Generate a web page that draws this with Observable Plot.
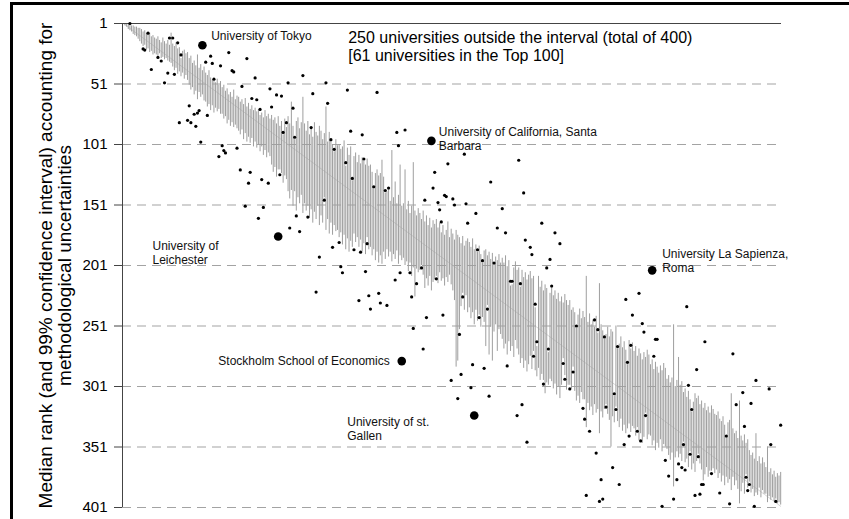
<!DOCTYPE html>
<html>
<head>
<meta charset="utf-8">
<script src="https://cdn.jsdelivr.net/npm/d3@7"></script>
<script src="https://cdn.jsdelivr.net/npm/@observablehq/plot@0.6"></script>
<style>
  html, body { margin: 0; padding: 0; background: #fff; overflow: hidden; }
  #chart { position: relative; width: 849px; height: 519px; }
  #edge { position: absolute; left: 10px; top: 2px; width: 900px; height: 600px;
          border-left: 3px solid #000; border-top: 3px solid #000; pointer-events: none; }
</style>
</head>
<body>
<div id="chart"><div id="edge"></div></div>
<script>
// Universities sorted by median simulated rank (position 1..400).
// 99% interval of the simulated rank: best (top) and worst (bottom) end.
const ciBest = [
  1,1,1,2,2,3,3,4,4,5, 5,6,8,7,9,10,9,12,11,13, 14,12,15,17,13,16,18,15,19,9,
  18,20,17,22,21,30,24,23,26,25, 30,28,34,32,36,27,38,35,40,37, 42,44,40,46,48,49,50,47,52,49,
  54,52,57,55,60,58,62,56,64,61, 62,66,64,68,63,70,67,72,69,73, 71,74,72,77,75,79,73,78,76,80,
  77,81,79,84,78,86,82,93,80,87, 78,84,66,86,97,82,79,88,83,62, 84,90,82,93,88,95,83,91,94,86,
  90,97,92,70,99,91,98,101,107,97, 102,101,105,103,98,119,104,110,103,131, 111,108,116,110,117,112,115,118,113,119,
  118,124,138,125,122,127,125,114,128,141, 140,139,148,106,145,132,150,143,118,152, 150,122,155,148,158,152,116,156,160,154,
  158,163,156,165,160,168,162,170,164,167, 163,170,166,174,168,176,172,165,178,171, 175,180,172,176,178,183,177,185,181,179,
  182,186,179,188,184,190,185,192,199,189, 188,193,190,196,191,201,194,197,192,199, 195,199,193,202,197,218,217,203,198,205,
  203,219,205,211,207,213,209,206,212,210, 236,268,210,219,214,222,217,220,273,224, 220,226,222,229,224,231,227,232,225,230,
  234,230,238,236,240,253,242,237,245,239, 244,210,248,241,250,246,252,243,257,216, 250,255,262,258,252,260,254,256,309,251,
  270,266,260,269,264,271,283,263,270,265, 272,268,276,270,274,279,273,277,271,275, 283,279,287,281,285,290,284,288,282,286,
  295,292,298,294,250,301,296,277,300,297, 306,303,310,305,312,322,314,307,311,309, 316,313,319,315,321,318,323,317,320,324,
  325,322,328,330,326,333,344,331,329,307, 336,340,338,344,313,342,346,341,348,345, 354,358,356,361,340,363,359,365,360,364,
  368,351,372,369,374,371,376,373,375,372
];
const ciWorst = [
  1,3,4,6,7,8,10,11,12,14, 16,18,20,19,23,22,25,24,27,26, 27,28,26,30,29,31,30,32,33,34,
  37,40,38,43,41,45,42,47,44,48, 52,56,54,60,57,64,58,62,60,65, 66,70,68,73,69,75,71,74,72,76,
  76,80,78,84,81,86,83,87,85,88, 90,93,89,97,92,99,95,100,96,103, 99,104,101,107,103,110,106,112,108,111,
  118,124,120,128,122,122,125,133,127,130, 140,146,139,152,140,156,145,150,143,158, 150,156,152,162,155,166,157,163,152,168,
  160,166,145,172,163,175,166,176,168,173, 172,178,174,184,176,188,179,190,181,186, 175,182,178,186,180,190,183,192,178,188,
  186,193,188,197,190,199,193,200,190,196, 188,194,190,198,192,196,189,200,193,197, 195,201,198,206,199,210,203,227,204,207,
  205,201,209,220,212,218,210,222,215,213, 210,216,207,214,212,218,211,215,209,217, 222,230,285,280,254,235,224,238,226,240,
  236,245,240,250,238,247,242,252,244,248, 268,234,275,252,280,256,250,272,254,258, 262,270,266,275,264,272,268,277,263,270,
  275,282,278,286,280,289,283,276,287,272, 288,293,286,296,291,296,307,298,300,295, 297,303,299,308,301,311,300,278,292,304,
  300,300,303,285,305,313,309,315,306,312, 312,335,315,321,318,325,316,323,320,340, 322,327,320,316,324,329,351,326,331,318,
  330,335,328,338,333,340,336,332,339,334, 336,342,335,346,340,348,343,323,345,341, 342,350,346,354,348,352,345,355,349,351,
  353,358,362,356,384,360,355,360,357,363, 347,364,361,368,355,370,365,372,363,357, 365,370,379,374,368,376,371,371,369,373,
  370,377,373,380,375,383,376,381,378,387, 376,383,379,386,398,388,381,390,374,385, 380,389,386,392,389,391,385,393,387,390,
  390,397,392,395,393,396,394,398,397,399
];

// Universities whose published rank falls outside their interval: [position, published rank]
const outsideDots = [
  [5,1],[16,9],[13,22],[14,23],[22,29],[24,32],[18,39],[29,13],[31,13],[34,17],[36,27],[28,42],[32,43],[26,50],
  [54,28],[51,33],[55,34],[60,36],[65,25],[67,40],[68,41],[76,30],[56,47],[73,53],[81,46],[90,55],[94,60],[97,61],
  [101,50],[79,63],[82,64],[84,72],[91,70],[104,71],[41,69],[44,76],[46,75],[47,73],[35,83],[40,81],[42,83],[45,86],
  [52,77],[100,83],[98,91],[105,95],[48,99],[61,102],[62,106],[63,108],[59,111],[70,104],[72,122],[78,124],[85,130],[96,126],
  [77,133],[89,133],[75,152],[86,153],[83,162],[106,160],[102,170],[108,173],
  [110,44],[124,50],[116,59],[137,56],[155,58],[125,67],[115,87],[127,97],[129,105],[139,90],[146,93],[167,91],[172,89],
  [168,102],[208,109],[198,117],[241,114],[190,124],[136,116],[147,113],[140,129],
  [153,136],[160,139],[162,137],[189,137],[196,143],[197,144],[201,146],[202,151],[184,147],[192,149],[193,155],[194,165],
  [209,150],[215,158],[210,166],[224,132],[231,154],[244,141],[228,170],[233,174],[245,180],[248,186],[249,192],[255,166],
  [263,174],[266,183],[260,196],[258,203],[261,218],[216,188],[219,197],[226,199],[236,214],[237,214],[242,216],[251,233],
  [252,264],[259,270],[276,251],[207,227],[217,244],[222,237],[205,258],[182,203],[191,212],[179,216],[176,227],[185,244],
  [195,242],[177,253],[183,270],[175,207],[169,207],[166,213],[148,206],[133,202],[134,207],[144,230],[151,237],[150,226],
  [156,224],[157,232],[161,234],[118,223],[120,194],[128,186],[132,182],[141,188],[145,190],[149,183],[113,161],[123,147],
  [306,229],[314,224],[310,242],[316,249],[317,256],[343,235],[287,246],[289,254],[293,260],[301,268],[309,267],[324,262],
  [325,262],[354,264],[323,276],[371,274],[349,287],[385,296],[344,300],[393,303],[377,306],[373,316],[382,315],[400,333],
  [378,334],[346,320],[268,282],[274,289],[269,295],[272,303],[299,307],[300,320],[294,318],[307,281],[280,319],[281,328],
  [284,338],[318,325],[313,338],[315,346],[308,342],[305,349],[288,356],[298,368],[291,378],[302,382],[282,391],[290,396],
  [292,394],[328,400],[335,394],[330,362],[332,375],[337,378],[338,365],[340,368],[342,370],[341,349],[345,357],[350,359],
  [358,373],[352,382],[353,382],[348,391],[351,390],[363,389],[367,342],[369,398],[379,376],[381,382],[380,387],[384,400],
  [394,349],[397,396],
  [213,283],[220,286],[206,291],[200,296],[234,284],[212,302],[204,311],[223,309],[243,316],[240,325],[246,347],[250,276],[256,299]
];

// Highlighted universities (also outside their interval)
const namedUniversities = ["University of Tokyo", "University of Leichester", "University of California, Santa Barbara",
  "University La Sapienza, Roma", "Stockholm School of Economics", "University of st. Gallen"];
const namedPosition = [49, 95, 188, 322, 170, 214];
const namedRank = [19, 177, 98, 205, 280, 325];
const namedLabel = ["University of Tokyo", "University of\nLeichester", "University of California, Santa\nBarbara",
  "University La Sapienza,\nRoma", "Stockholm School of Economics", "University of st.\nGallen"];

const yTicks = [1, 51, 101, 151, 201, 251, 301, 351, 401];
const noteText = "250 universities outside the interval (total of 400)\n[61 universities in the Top 100]";
const yTitle = "Median rank (and 99% confidence interval) accounting for\nmethodological uncertainties";

// ---- derived tables ----
const intervals = ciBest.map((best, k) => ({pos: k + 1, median: k + 1, best, worst: ciWorst[k]}));
const dots = outsideDots.map(([pos, rank]) => ({pos, rank}));
const named = namedUniversities.map((name, k) => ({name, label: namedLabel[k], pos: namedPosition[k], rank: namedRank[k]}));

// label placement relative to each highlighted dot
const labelPlacement = [
  {dx: 8.8, dy: -16, textAnchor: "start"},
  {dx: -125.7, dy: 3, textAnchor: "start"},
  {dx: 7.4, dy: -15.3, textAnchor: "start"},
  {dx: 10, dy: -23, textAnchor: "start"},
  {dx: -12, dy: -6.6, textAnchor: "end"},
  {dx: -127, dy: 0, textAnchor: "start"}
];

const font = "'Liberation Sans', Arial, Helvetica, sans-serif";

const labelMarks = named.map((d, k) => Plot.text([d], {
  x: "pos", y: "rank", text: "label",
  dx: labelPlacement[k].dx, dy: labelPlacement[k].dy,
  textAnchor: labelPlacement[k].textAnchor, lineAnchor: "top",
  lineHeight: 1.2, fontSize: 12, fill: "#111"
}));

const chart = Plot.plot({
  width: 849,
  height: 519,
  marginLeft: 122,
  marginRight: 68,
  marginTop: 23,
  marginBottom: 12,
  style: {fontFamily: font, background: "white", color: "#000", overflow: "visible"},
  x: {domain: [0.5, 400.5], axis: null},
  y: {domain: [1, 401], reverse: true, axis: null},
  marks: [
    Plot.ruleY(yTicks.filter((t) => t > 1), {stroke: "#a3a3a3", strokeDasharray: "9,6"}),
    Plot.line(intervals, {x: "pos", y: "median", stroke: "#d6d6d6", strokeWidth: 1}),
    Plot.ruleX(intervals, {x: "pos", y1: "best", y2: "worst", stroke: "#9e9e9e", strokeWidth: 1}),
    Plot.ruleY([1], {stroke: "#444"}),
    Plot.ruleX([0.5], {stroke: "#444"}),
    Plot.axisY({ticks: yTicks, tickSize: 8, tickPadding: 7, fontSize: 15, stroke: "#444", label: null}),
    Plot.dot(dots, {x: "pos", y: "rank", r: 1.6, fill: "#000", stroke: null}),
    Plot.dot(named, {x: "pos", y: "rank", r: 4.3, fill: "#000", stroke: null}),
    ...labelMarks,
    Plot.text([noteText], {frameAnchor: "top-left", dx: 225.7, dy: 6.3, lineAnchor: "top",
      textAnchor: "start", fontSize: 16, lineHeight: 1.15, fill: "#000"}),
    Plot.text([yTitle], {frameAnchor: "left", rotate: -90, dx: -84.8, lineAnchor: "top",
      textAnchor: "middle", fontSize: 19, lineHeight: 1.04, fill: "#000"})
  ]
});

document.getElementById("chart").prepend(chart);
</script>
</body>
</html>
